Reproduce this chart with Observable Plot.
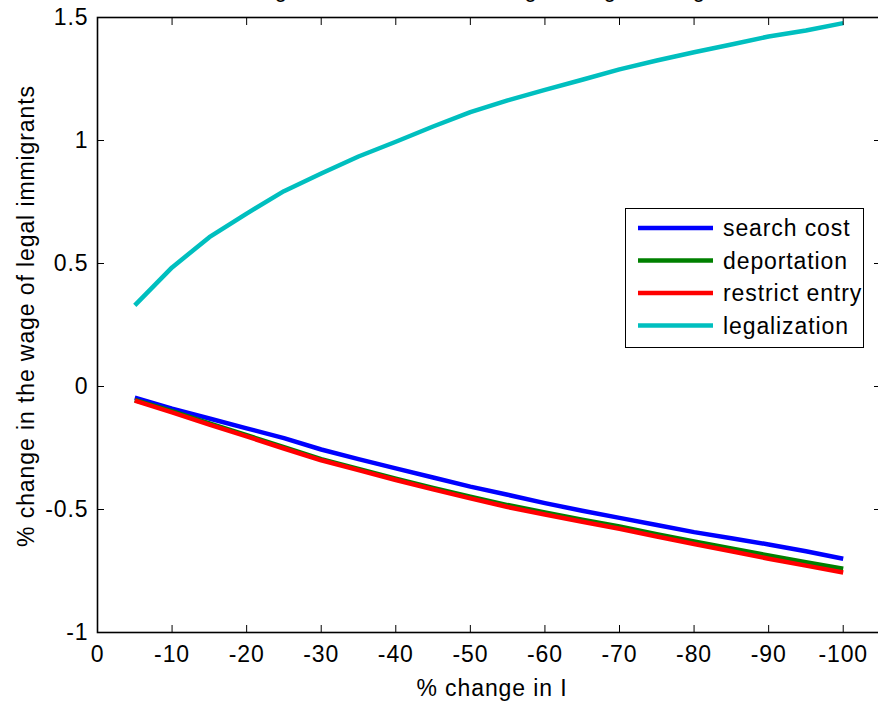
<!DOCTYPE html>
<html><head><meta charset="utf-8">
<script src="https://cdn.jsdelivr.net/npm/d3@7"></script>
<script src="https://cdn.jsdelivr.net/npm/@observablehq/plot@0.6"></script>
<style>
html,body{margin:0;padding:0;background:#fff;overflow:hidden;}
#chart svg text{letter-spacing:0.9px;}
</style></head><body><div id="chart"></div>
<script>
const xValues = [-5,-10,-15,-20,-25,-30,-35,-40,-45,-50,-55,-60,-65,-70,-75,-80,-85,-90,-95,-100];
const searchCost = [-0.045,-0.09,-0.13,-0.17,-0.21,-0.256,-0.295,-0.333,-0.37,-0.407,-0.44,-0.474,-0.505,-0.534,-0.563,-0.592,-0.617,-0.642,-0.67,-0.70];
const deportation = [-0.055,-0.10,-0.15,-0.198,-0.247,-0.295,-0.335,-0.375,-0.412,-0.448,-0.482,-0.512,-0.541,-0.569,-0.60,-0.63,-0.658,-0.687,-0.714,-0.741];
const restrictEntry = [-0.057,-0.105,-0.155,-0.203,-0.252,-0.30,-0.34,-0.38,-0.418,-0.455,-0.49,-0.52,-0.55,-0.578,-0.61,-0.64,-0.67,-0.70,-0.728,-0.756];
const legalization = [0.33,0.484,0.607,0.703,0.794,0.866,0.935,0.995,1.057,1.115,1.163,1.206,1.247,1.289,1.325,1.359,1.39,1.423,1.447,1.477];
const seriesNames = ["search cost","deportation","restrict entry","legalization"];
const seriesColors = ["#0000ff","#008000","#ff0000","#00bfbf"];
const xTicks = [0,-10,-20,-30,-40,-50,-60,-70,-80,-90,-100];
const xTickLabels = ["0","-10","-20","-30","-40","-50","-60","-70","-80","-90","-100"];
const yTicks = [-1,-0.5,0,0.5,1,1.5];
const yTickLabels = ["-1","-0.5","0","0.5","1","1.5"];
const xLabel = "% change in I";
const yLabel = "% change in the wage of legal immigrants";
const title = "Change in I: effect on the wage of legal immigrants";

const seriesValues = [searchCost, deportation, restrictEntry, legalization];
const data = seriesNames.flatMap((name, s) => xValues.map((x, i) => ({x, y: seriesValues[s][i], series: name})));

const font = "'Liberation Sans', Arial, Helvetica, sans-serif";
const plot = Plot.plot({
  width: 880, height: 705,
  marginLeft: 97, marginRight: 0, marginTop: 17, marginBottom: 73,
  style: {fontFamily: font, fontSize: "22px", color: "#000", background: "#fff", maxWidth: "none", overflow: "visible"},
  x: {domain: [0, -105], axis: null},
  y: {domain: [-1, 1.5], axis: null},
  color: {domain: seriesNames, range: seriesColors},
  marks: [
    Plot.line(data, {x: "x", y: "y", z: "series", stroke: "series", strokeWidth: 4.5, strokeLinecap: "butt", strokeLinejoin: "round"}),
    Plot.frame({stroke: "#000", strokeWidth: 1.6}),
    Plot.axisX(xTicks, {anchor: "bottom", tickSize: 7, dy: -7, tickFormat: () => "", label: null}),
    Plot.axisX(xTicks, {anchor: "top", tickSize: 7, dy: 7, tickFormat: () => "", label: null}),
    Plot.axisY(yTicks, {anchor: "left", tickSize: 7, dx: 7, tickFormat: () => "", label: null}),
    Plot.axisY(yTicks, {anchor: "right", tickSize: 7, dx: -7, tickFormat: () => "", label: null}),
    Plot.axisX(xTicks, {anchor: "bottom", tickSize: 0, tickPadding: 13, tickFormat: d => xTickLabels[xTicks.indexOf(d)], label: null, fontSize: 23}),
    Plot.axisY(yTicks, {anchor: "left", tickSize: 0, tickPadding: 9, tickFormat: d => yTickLabels[yTicks.indexOf(d)], label: null, fontSize: 23}),
    Plot.text([xLabel], {frameAnchor: "bottom", dy: 63, dx: 3, lineAnchor: "bottom", fontSize: 23}),
    Plot.text([yLabel], {frameAnchor: "left", dx: -64, dy: -9, rotate: -90, textAnchor: "middle", lineAnchor: "bottom", fontSize: 23}),
    Plot.text([title], {frameAnchor: "top", dy: -21, lineAnchor: "bottom", fontSize: 22})
  ]
});
document.getElementById("chart").appendChild(plot);

// legend (MATLAB-style box)
const svg = d3.select(plot);
const lg = svg.append("g").attr("font-family", font).attr("font-size", 23).attr("text-anchor", "start");
lg.append("rect").attr("x", 625.5).attr("y", 208.5).attr("width", 238).attr("height", 139)
  .attr("fill", "#fff").attr("stroke", "#000").attr("stroke-width", 1);
seriesNames.forEach((name, i) => {
  const cy = 228 + i * 32.5;
  lg.append("line").attr("x1", 638).attr("x2", 713).attr("y1", cy).attr("y2", cy)
    .attr("stroke", seriesColors[i]).attr("stroke-width", 4.5);
  lg.append("text").attr("x", 723).attr("y", cy).attr("dy", "0.35em").attr("fill", "#000").attr("text-anchor", "start").text(name);
});
</script></body></html>
